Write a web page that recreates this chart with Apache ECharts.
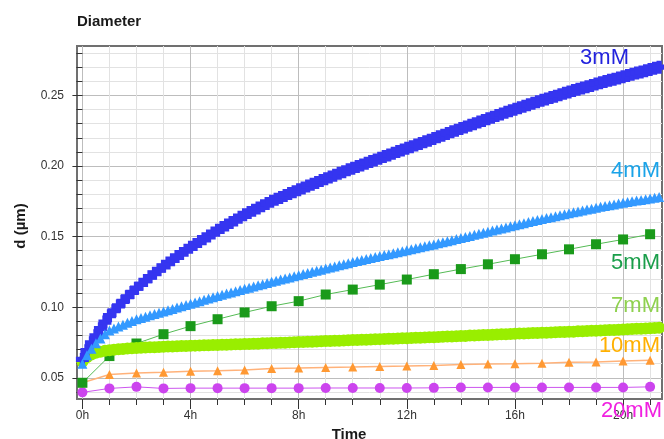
<!DOCTYPE html>
<html>
<head>
<meta charset="utf-8">
<script src="https://cdn.jsdelivr.net/npm/echarts@6/dist/echarts.min.js"></script>
<style>html,body{margin:0;padding:0;background:#fff}#c{width:664px;height:439px}</style>
</head>
<body>
<div id="c"></div>
<script>
// ---- data ----
const hours = [0,1,2,3,4,5,6,7,8,9,10,11,12,13,14,15,16,17,18,19,20,21];
const denseStepH = 1/6; // dense series sampled every 10 min
const d3mM = [0.063,0.0692,0.0748,0.0798,0.0848,0.0895,0.094,
0.0975,0.1009,0.1042,0.1074,0.1105,0.1135,
0.1162,0.1189,0.1215,0.124,0.1265,0.129,
0.1313,0.1336,0.1359,0.1381,0.1403,0.1425,
0.1445,0.1465,0.1485,0.1505,0.1525,0.1545,
0.1564,0.1582,0.16,0.1618,0.1637,0.1655,
0.1671,0.1687,0.1703,0.1718,0.1734,0.175,
0.1764,0.1777,0.1791,0.1805,0.1818,0.1832,
0.1845,0.1858,0.1871,0.1884,0.1897,0.191,
0.1923,0.1935,0.1948,0.196,0.1973,0.1985,
0.1997,0.2008,0.202,0.2032,0.2043,0.2055,
0.2067,0.2078,0.209,0.2102,0.2113,0.2125,
0.2137,0.2148,0.216,0.2172,0.2183,0.2195,
0.2207,0.2218,0.223,0.2242,0.2253,0.2265,
0.2277,0.2288,0.23,0.2312,0.2323,0.2335,
0.2346,0.2357,0.2369,0.238,0.2391,0.2402,
0.2413,0.2423,0.2434,0.2444,0.2455,0.2465,
0.2475,0.2485,0.2495,0.2505,0.2515,0.2525,
0.2534,0.2543,0.2553,0.2562,0.2571,0.258,
0.2589,0.2598,0.2607,0.2615,0.2624,0.2633,
0.2641,0.265,0.2658,0.2666,0.2675,0.2683,
0.2692,0.270];
const d4mM = [0.060,0.066,0.0705,0.0745,0.0778,0.0808,0.0835,
0.0849,0.0863,0.0876,0.089,0.0903,0.0915,
0.0924,0.0933,0.0943,0.0952,0.0961,0.097,
0.0979,0.0988,0.0998,0.1007,0.1016,0.1025,
0.1034,0.1043,0.1053,0.1062,0.1071,0.108,
0.1088,0.1097,0.1105,0.1113,0.1122,0.113,
0.1138,0.1147,0.1155,0.1163,0.1172,0.118,
0.1188,0.1196,0.1204,0.1211,0.1219,0.1227,
0.1235,0.1243,0.1251,0.1258,0.1266,0.1274,
0.1282,0.1289,0.1297,0.1305,0.1312,0.132,
0.1327,0.1334,0.1341,0.1348,0.1355,0.1362,
0.1369,0.1376,0.1383,0.1389,0.1396,0.1403,
0.141,0.1417,0.1424,0.1431,0.1438,0.1445,
0.1453,0.146,0.1468,0.1475,0.1483,0.149,
0.1498,0.1505,0.1513,0.152,0.1528,0.1535,
0.1543,0.155,0.1558,0.1565,0.1573,0.158,
0.1588,0.1595,0.1603,0.161,0.1618,0.1625,
0.1632,0.1638,0.1645,0.1652,0.1658,0.1665,
0.1672,0.1678,0.1685,0.1692,0.1698,0.1705,
0.1711,0.1717,0.1723,0.1728,0.1734,0.174,
0.1745,0.175,0.1755,0.176,0.1765,0.177,
0.1775,0.178];
const d7mM = [0.0613,0.0645,0.0665,0.0677,0.0685,0.0691,0.0696,
0.0699,0.0702,0.0704,0.0707,0.0709,0.0712,
0.0713,0.0715,0.0716,0.0717,0.0719,0.072,
0.0721,0.0722,0.0723,0.0725,0.0726,0.0727,
0.0728,0.0729,0.073,0.0731,0.0732,0.0733,
0.0734,0.0735,0.0736,0.0737,0.0738,0.0739,
0.074,0.0741,0.0742,0.0744,0.0745,0.0746,
0.0747,0.0748,0.0749,0.0751,0.0752,0.0753,
0.0754,0.0755,0.0756,0.0758,0.0759,0.076,
0.0761,0.0762,0.0763,0.0765,0.0766,0.0767,
0.0768,0.0769,0.077,0.0772,0.0773,0.0774,
0.0775,0.0776,0.0777,0.0779,0.078,0.0781,
0.0782,0.0783,0.0784,0.0786,0.0787,0.0788,
0.0789,0.0791,0.0792,0.0793,0.0795,0.0796,
0.0797,0.0799,0.08,0.0801,0.0803,0.0804,
0.0805,0.0807,0.0808,0.0809,0.0811,0.0812,
0.0813,0.0814,0.0815,0.0817,0.0818,0.0819,
0.082,0.0821,0.0822,0.0824,0.0825,0.0826,
0.0827,0.0829,0.083,0.0831,0.0833,0.0834,
0.0835,0.0837,0.0838,0.0839,0.0841,0.0842,
0.0844,0.0845,0.0847,0.0848,0.085,0.0851,
0.0853,0.0855];
const d5mM = [0.0465,0.0654,0.0743,0.0809,0.0866,0.0915,0.0963,0.1007,0.1043,0.109,0.1125,0.116,0.1196,0.1234,0.127,0.1304,0.134,0.1375,0.141,0.1446,0.148,0.1517];
const d10mM = [0.0465,0.0524,0.0535,0.054,0.0547,0.055,0.0555,0.0566,0.0569,0.0573,0.0576,0.058,0.0583,0.0588,0.0595,0.0598,0.060,0.0603,0.061,0.0612,0.062,0.0625];
const d20mM = [0.0397,0.0425,0.0436,0.0425,0.0427,0.0427,0.0427,0.0427,0.0427,0.0428,0.0428,0.0428,0.0428,0.0429,0.0432,0.0432,0.0432,0.0432,0.0432,0.0432,0.0432,0.0436];
const xMinorTicks = [0,1,2,3,4,5,6,7,8,9,10,11,12,13,14,15,16,17,18,19,20,21];
const xMajorTicks = [0,4,8,12,16,20];
const yMinorTicks = [0.04,0.05,0.06,0.07,0.08,0.09,0.10,0.11,0.12,0.13,0.14,0.15,0.16,0.17,0.18,0.19,0.20,0.21,0.22,0.23,0.24,0.25,0.26,0.27,0.28];
const yMajorTicks = [0.05,0.10,0.15,0.20,0.25];
const seriesNames = ['3mM','4mM','5mM','7mM','10mM','20mM'];

// ---- chart ----
const FONT = '"Liberation Sans", Arial, sans-serif';
const dense = arr => arr.map((v, i) => [i * denseStepH, v]);
const hourly = arr => arr.map((v, i) => [hours[i], v]);
const X = {min: -0.2, max: 21.44};
const Y = {min: 0.035, max: 0.285};

const chart = echarts.init(document.getElementById('c'), null, {renderer: 'canvas'});
chart.setOption({
  animation: false,
  grid: {left: 77, top: 46, right: 2, bottom: 40, show: true, borderColor: '#707070', borderWidth: 2, backgroundColor: 'transparent'},
  xAxis: [
    {type: 'value', position: 'bottom', min: X.min, max: X.max,
     axisLine: {show: false},
     axisTick: {show: true, length: 6, customValues: xMinorTicks, lineStyle: {color: '#333'}},
     axisLabel: {show: false},
     splitLine: {show: true, lineStyle: {color: '#e2e2e2', width: 1}}},
    {type: 'value', position: 'bottom', min: X.min, max: X.max,
     axisLine: {show: false},
     axisTick: {show: true, length: 10, customValues: xMajorTicks, lineStyle: {color: '#333'}},
     axisLabel: {show: true, customValues: xMajorTicks, margin: 11, color: '#333', fontSize: 12, fontFamily: FONT, formatter: v => v + 'h'},
     splitLine: {show: true, lineStyle: {color: '#bdbdbd', width: 1}}}
  ],
  yAxis: [
    {type: 'value', position: 'left', min: Y.min, max: Y.max,
     axisLine: {show: false},
     axisTick: {show: true, length: 6, customValues: yMinorTicks, lineStyle: {color: '#333'}},
     axisLabel: {show: false},
     splitLine: {show: true, lineStyle: {color: '#e2e2e2', width: 1}}},
    {type: 'value', position: 'left', min: Y.min, max: Y.max,
     axisLine: {show: false},
     axisTick: {show: true, length: 10, customValues: yMajorTicks, lineStyle: {color: '#333'}},
     axisLabel: {show: true, customValues: yMajorTicks, margin: 13, color: '#333', fontSize: 12, fontFamily: FONT, formatter: v => v.toFixed(2)},
     splitLine: {show: true, lineStyle: {color: '#bdbdbd', width: 1}}}
  ],
  series: [
    {name: seriesNames[5], type: 'line', data: hourly(d20mM), symbol: 'circle', symbolSize: 10,
     itemStyle: {color: '#cc44ee'}, lineStyle: {color: '#cc55ee', width: 1}},
    {name: seriesNames[4], type: 'line', data: hourly(d10mM), symbol: 'triangle', symbolSize: 9,
     itemStyle: {color: '#ff9933'}, lineStyle: {color: '#ffb27a', width: 1.5}},
    {name: seriesNames[2], type: 'line', data: hourly(d5mM), symbol: 'rect', symbolSize: 10,
     itemStyle: {color: '#1a9a1a'}, lineStyle: {color: '#55bb55', width: 1}},
    {name: seriesNames[3], type: 'line', data: dense(d7mM), symbol: 'circle', symbolSize: 12,
     itemStyle: {color: '#99ee00'}, lineStyle: {color: '#99ee00', width: 1}},
    {name: seriesNames[0], type: 'line', data: dense(d3mM), symbol: 'path://M3,0H7V3H10V7H7V10H3V7H0V3H3Z', symbolSize: 13,
     itemStyle: {color: '#3535f0'}, lineStyle: {color: '#3535f0', width: 1}},
    {name: seriesNames[1], type: 'line', data: dense(d4mM), symbol: 'triangle', symbolSize: 10,
     itemStyle: {color: '#3399ff'}, lineStyle: {color: '#3399ff', width: 1}}
  ],
  graphic: [
    {type: 'text', x: 77, y: 22, style: {text: 'Diameter', font: 'bold 15px ' + FONT, fill: '#1a1a1a', align: 'left', verticalAlign: 'middle'}},
    {type: 'text', x: 21, y: 226, rotation: Math.PI / 2, style: {text: 'd (µm)', font: 'bold 15px ' + FONT, fill: '#1a1a1a', align: 'center', verticalAlign: 'middle'}},
    {type: 'text', x: 349, y: 435, style: {text: 'Time', font: 'bold 15px ' + FONT, fill: '#1a1a1a', align: 'center', verticalAlign: 'middle'}},
    {type: 'text', x: 629, y: 58, z: 100, style: {text: seriesNames[0], font: '22px ' + FONT, fill: '#2222dd', align: 'right', verticalAlign: 'middle'}},
    {type: 'text', x: 660, y: 171, z: 100, style: {text: seriesNames[1], font: '22px ' + FONT, fill: '#1aa3e8', align: 'right', verticalAlign: 'middle'}},
    {type: 'text', x: 660, y: 263, z: 100, style: {text: seriesNames[2], font: '22px ' + FONT, fill: '#1a9e4a', align: 'right', verticalAlign: 'middle'}},
    {type: 'text', x: 660, y: 306, z: 100, style: {text: seriesNames[3], font: '22px ' + FONT, fill: '#8fd14f', align: 'right', verticalAlign: 'middle'}},
    {type: 'text', x: 660, y: 346, z: 100, style: {text: seriesNames[4], font: '22px ' + FONT, fill: '#ffb000', align: 'right', verticalAlign: 'middle'}},
    {type: 'text', x: 662, y: 411, z: 100, style: {text: seriesNames[5], font: '22px ' + FONT, fill: '#f020e0', align: 'right', verticalAlign: 'middle'}}
  ]
});
</script>
</body>
</html>
